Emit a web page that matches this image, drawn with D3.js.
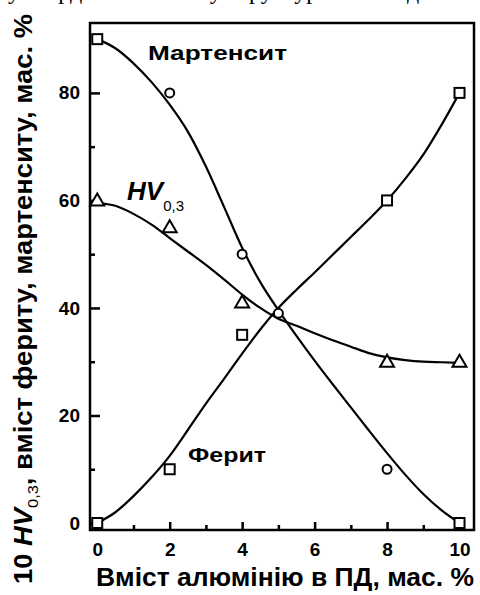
<!DOCTYPE html>
<html>
<head>
<meta charset="utf-8">
<script src="https://cdn.jsdelivr.net/npm/d3@7"></script>
<style>
  body { margin: 0; background: #fff; }
  svg { display: block; }
</style>
</head>
<body>
<svg id="chart"></svg>
<script>
let width = 480;
let height = 595;
let margin = { left: 90, right: 6, top: 23, bottom: 65 };

// measured points (mass % Al in the weld)
let xPoints = [0, 2, 4, 8, 10];
let martensite = [90, 80, 50, 10, 0];
let martMarks = ['square', 'circle', 'circle', 'circle', 'square'];
let ferrite = [0, 10, 35, 60, 80];
let hardness = [60, 55, 41, 30, 30];

// extra marker sitting on the crossing
let crossX = [5];
let crossY = [39];

// smoothed curves
let curveX = [0, 0.5, 1, 1.5, 2, 2.5, 3, 3.5, 4, 4.5, 5, 5.5, 6, 6.5, 7, 7.5, 8, 8.5, 9, 9.5, 10];
let martCurve = [90, 88.3, 85.5, 82, 77.8, 72.8, 66.3, 58.8, 51.2, 44.8, 39.6, 34.8, 30.2, 25.8, 21.5, 17.2, 13, 9, 5.4, 2.4, 0];
let ferrCurve = [0, 2, 5, 8.5, 12.5, 17.3, 22.2, 26.8, 31.5, 36, 40, 43.4, 46.6, 49.9, 53.2, 56.5, 60, 64, 68.5, 74, 80];
let hvCurve = [59.5, 59, 57.5, 55.5, 53, 50.5, 48, 45.3, 42.5, 40, 38, 36.7, 35.3, 34, 32.8, 31.6, 30.8, 30.3, 30, 29.9, 29.8];

let xMajor = [0, 2, 4, 6, 8, 10];
let xMinor = [1, 3, 5, 7, 9];
let yMajor = [0, 20, 40, 60, 80];
let yMinor = [10, 30, 50, 70];

let svg = d3.select('#chart').attr('width', width).attr('height', height);

let xScale = d3.scaleLinear().domain([-0.2, 10.4]).range([margin.left, width - margin.right]);
let yScale = d3.scaleLinear().domain([-1.3, 93]).range([height - margin.bottom, margin.top]);

let plotBottom = height - margin.bottom;

// bottom edge of the page text line above, cut off by the crop
svg.append('text')
  .attr('x', 8)
  .attr('y', -1)
  .attr('font-family', 'Liberation Serif')
  .attr('font-size', 24)
  .text('у твердості та вмісту структурних складових ПД');

// axes
let bold = 'Liberation Sans';

let xAxis = d3.axisBottom(xScale).tickValues(xMajor).tickSize(-8).tickPadding(13).tickFormat(d3.format('d'));
let xAxisMinor = d3.axisBottom(xScale).tickValues(xMinor).tickSize(-5).tickFormat('');
let yAxis = d3.axisLeft(yScale).tickValues(yMajor).tickSize(-10).tickPadding(10).tickFormat(d3.format('d'));
let yAxisMinor = d3.axisLeft(yScale).tickValues(yMinor).tickSize(-5).tickFormat('');

[xAxis, xAxisMinor].forEach(ax => {
  svg.append('g')
    .attr('transform', 'translate(0,' + plotBottom + ')')
    .call(ax);
});
[yAxis, yAxisMinor].forEach(ax => {
  svg.append('g')
    .attr('transform', 'translate(' + margin.left + ',0)')
    .call(ax);
});

svg.selectAll('.domain').remove();
svg.selectAll('.tick line').attr('stroke', '#000').attr('stroke-width', 2.5);
svg.selectAll('.tick text')
  .attr('font-family', bold)
  .attr('font-weight', 'bold')
  .attr('font-size', 19)
  .attr('fill', '#000');

svg.append('rect')
  .attr('x', margin.left)
  .attr('y', margin.top)
  .attr('width', width - margin.left - margin.right)
  .attr('height', plotBottom - margin.top)
  .attr('fill', 'none')
  .attr('stroke', '#000')
  .attr('stroke-width', 2.5);

// curves
let line = d3.line()
  .x((d, i) => xScale(curveX[i]))
  .y(d => yScale(d))
  .curve(d3.curveMonotoneX);

[martCurve, ferrCurve, hvCurve].forEach(c => {
  svg.append('path')
    .attr('d', line(c))
    .attr('fill', 'none')
    .attr('stroke', '#000')
    .attr('stroke-width', 2.2);
});

// markers
let drawMark = (type, x, y) => {
  let cx = xScale(x);
  let cy = yScale(y);
  let m;
  if (type === 'circle') {
    m = svg.append('circle').attr('cx', cx).attr('cy', cy).attr('r', 4.5);
  } else if (type === 'square') {
    m = svg.append('rect').attr('x', cx - 5).attr('y', cy - 5).attr('width', 10).attr('height', 10);
  } else {
    m = svg.append('path').attr('d', 'M' + cx + ',' + (cy - 7) + 'L' + (cx + 7) + ',' + (cy + 5) + 'L' + (cx - 7) + ',' + (cy + 5) + 'Z');
  }
  m.attr('fill', '#fff').attr('stroke', '#000').attr('stroke-width', 2);
};

xPoints.forEach((x, i) => drawMark(martMarks[i], x, martensite[i]));
xPoints.forEach((x, i) => drawMark('square', x, ferrite[i]));
xPoints.forEach((x, i) => drawMark('triangle', x, hardness[i]));
crossX.forEach((x, i) => drawMark('circle', x, crossY[i]));

// curve labels
svg.append('text')
  .attr('x', 148).attr('y', 60)
  .attr('font-family', bold).attr('font-weight', 'bold').attr('font-size', 21)
  .attr('textLength', 139).attr('lengthAdjust', 'spacingAndGlyphs')
  .text('Мартенсит');

let hvLabel = svg.append('text')
  .attr('x', 127).attr('y', 200)
  .attr('font-family', bold).attr('font-size', 26);
hvLabel.append('tspan').attr('font-weight', 'bold').attr('font-style', 'italic').text('HV');
hvLabel.append('tspan').attr('font-size', 15).attr('dy', 11).text('0,3');

svg.append('text')
  .attr('x', 188).attr('y', 462)
  .attr('font-family', bold).attr('font-weight', 'bold').attr('font-size', 21)
  .attr('textLength', 78).attr('lengthAdjust', 'spacingAndGlyphs')
  .text('Ферит');

// axis titles
svg.append('text')
  .attr('x', 96).attr('y', 586)
  .attr('font-family', bold).attr('font-weight', 'bold').attr('font-size', 26)
  .attr('textLength', 378).attr('lengthAdjust', 'spacingAndGlyphs')
  .text('Вміст алюмінію в ПД, мас. %');

let yTitle = svg.append('text')
  .attr('transform', 'translate(32,584) rotate(-90)')
  .attr('font-family', bold).attr('font-weight', 'bold').attr('font-size', 25)
  .attr('textLength', 570).attr('lengthAdjust', 'spacingAndGlyphs');
yTitle.append('tspan').text('10 ');
yTitle.append('tspan').attr('font-style', 'italic').text('HV');
yTitle.append('tspan').attr('font-weight', 'normal').attr('font-size', 15).attr('dy', 6).text('0,3');
yTitle.append('tspan').attr('dy', -6).text(', вміст фериту, мартенситу, мас. %');
</script>
</body>
</html>
